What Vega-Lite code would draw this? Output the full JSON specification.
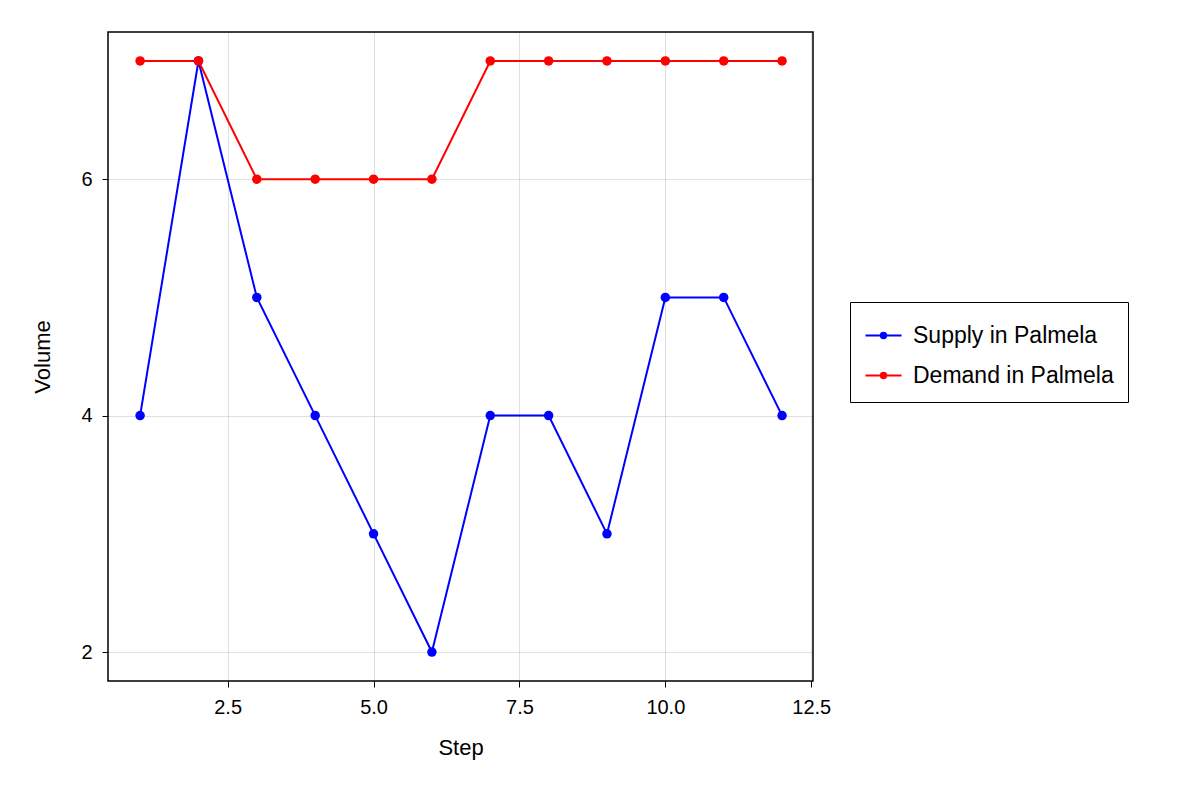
{
  "$schema": "https://vega.github.io/schema/vega-lite/v6.json",
  "width": 705,
  "height": 649,
  "autosize": {"type": "none"},
  "padding": {"left": 108, "top": 32, "right": 387, "bottom": 119},
  "background": "white",
  "config": {
    "font": "Liberation Sans",
    "view": {"stroke": "black", "strokeWidth": 1.5},
    "axis": {
      "labelFontSize": 20, "titleFontSize": 22, "titleFontWeight": "normal",
      "labelColor": "black", "titleColor": "black",
      "gridColor": "#000", "gridOpacity": 0.12, "domain": false,
      "tickColor": "black", "tickSize": 6, "labelPadding": 10
    },
    "axisX": {"titlePadding": 20},
    "axisY": {"titlePadding": 26}
  },
  "data": {"values": [
    {"step": 1, "value": 4, "series": "Supply in Palmela"},
    {"step": 2, "value": 7, "series": "Supply in Palmela"},
    {"step": 3, "value": 5, "series": "Supply in Palmela"},
    {"step": 4, "value": 4, "series": "Supply in Palmela"},
    {"step": 5, "value": 3, "series": "Supply in Palmela"},
    {"step": 6, "value": 2, "series": "Supply in Palmela"},
    {"step": 7, "value": 4, "series": "Supply in Palmela"},
    {"step": 8, "value": 4, "series": "Supply in Palmela"},
    {"step": 9, "value": 3, "series": "Supply in Palmela"},
    {"step": 10, "value": 5, "series": "Supply in Palmela"},
    {"step": 11, "value": 5, "series": "Supply in Palmela"},
    {"step": 12, "value": 4, "series": "Supply in Palmela"},
    {"step": 1, "value": 7, "series": "Demand in Palmela"},
    {"step": 2, "value": 7, "series": "Demand in Palmela"},
    {"step": 3, "value": 6, "series": "Demand in Palmela"},
    {"step": 4, "value": 6, "series": "Demand in Palmela"},
    {"step": 5, "value": 6, "series": "Demand in Palmela"},
    {"step": 6, "value": 6, "series": "Demand in Palmela"},
    {"step": 7, "value": 7, "series": "Demand in Palmela"},
    {"step": 8, "value": 7, "series": "Demand in Palmela"},
    {"step": 9, "value": 7, "series": "Demand in Palmela"},
    {"step": 10, "value": 7, "series": "Demand in Palmela"},
    {"step": 11, "value": 7, "series": "Demand in Palmela"},
    {"step": 12, "value": 7, "series": "Demand in Palmela"}
  ]},
  "encoding": {
    "x": {"field": "step", "type": "quantitative", "title": "Step",
      "scale": {"domain": [0.45, 12.53], "nice": false, "zero": false},
      "axis": {"values": [2.5, 5, 7.5, 10, 12.5], "format": ".1f"}},
    "y": {"field": "value", "type": "quantitative", "title": "Volume",
      "scale": {"domain": [1.755, 7.245], "nice": false, "zero": false},
      "axis": {"values": [2, 4, 6], "format": "d"}},
    "color": {"field": "series", "type": "nominal",
      "scale": {"domain": ["Supply in Palmela", "Demand in Palmela"], "range": ["blue", "red"]},
      "legend": {"title": null, "orient": "none", "legendX": 742, "legendY": 270,
        "labelFontSize": 23, "labelColor": "black", "strokeColor": "black",
        "padding": 14, "rowPadding": 8, "labelOffset": 10,
        "symbolSize": 1300, "symbolStrokeWidth": 2,
        "symbolType": "M-1,0H-0.15M0.15,0H1M0.15,0A0.15,0.15 0 1 1 -0.15,0A0.15,0.15 0 1 1 0.15,0",
        "labelLimit": 400}}
  },
  "layer": [
    {"mark": {"type": "line", "strokeWidth": 2}},
    {"mark": {"type": "point", "filled": true, "size": 90, "opacity": 1}}
  ]
}
